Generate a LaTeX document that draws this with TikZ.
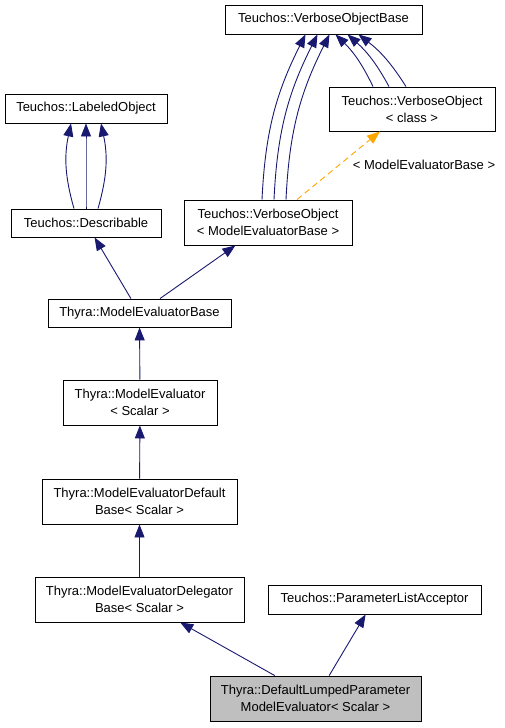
\documentclass[tikz,border=0pt]{standalone}
\usepackage{fontspec}
\setmainfont{Liberation Sans}
\usetikzlibrary{arrows.meta,positioning}
\definecolor{edgeblue}{RGB}{25,25,112}
\definecolor{tmplorange}{RGB}{255,165,0}
\definecolor{curfill}{RGB}{191,191,191}

\begin{document}
\begin{tikzpicture}[
x=1pt,y=-1pt,
>={Triangle[length=13pt,width=10pt]},
cls/.style={
	draw,
	rectangle,
	line width=0.9pt,
	inner sep=1pt,
	align=center,
	font=\fontsize{13}{17}\selectfont
},
inherit/.style={
	->,
	edgeblue,
	line width=0.9pt
},
tmpl/.style={
	->,
	tmplorange,
	line width=0.9pt,
	dash pattern=on 6pt off 4pt
}
]
\useasboundingbox (0,0) rectangle (504,728);

\node[cls,minimum width=197pt,minimum height=29pt] (vob) at (323.5,19.5) {Teuchos::VerboseObjectBase};
\node[cls,minimum width=166pt,minimum height=44pt] (voc) at (412,109) {Teuchos::VerboseObject\\< class >};
\node[cls,minimum width=168pt,minimum height=45pt] (vomeb) at (268,222.5) {Teuchos::VerboseObject\\< ModelEvaluatorBase >};
\node[cls,minimum width=162pt,minimum height=29pt] (lob) at (86,108.5) {Teuchos::LabeledObject};
\node[cls,minimum width=150pt,minimum height=28pt] (desc) at (86,223) {Teuchos::Describable};
\node[cls,minimum width=183pt,minimum height=28pt] (meb) at (139.5,313) {Thyra::ModelEvaluatorBase};
\node[cls,minimum width=154pt,minimum height=45pt] (me) at (140,402.5) {Thyra::ModelEvaluator\\< Scalar >};
\node[cls,minimum width=195pt,minimum height=45pt] (mdb) at (139.5,501.5) {Thyra::ModelEvaluatorDefault\\Base< Scalar >};
\node[cls,minimum width=209pt,minimum height=45pt] (mdel) at (139.5,599.5) {Thyra::ModelEvaluatorDelegator\\Base< Scalar >};
\node[cls,minimum width=213pt,minimum height=29pt] (pla) at (374.5,599.5) {Teuchos::ParameterListAcceptor};
\node[cls,fill=curfill,minimum width=211pt,minimum height=45pt] (dlpme) at (315.5,698.5) {Thyra::DefaultLumpedParameter\\ModelEvaluator< Scalar >};

% multiple paths to the same base
\foreach \s/\e in {-6/-18,6/-6,18/6}
\draw[inherit] ([xshift=\s pt]vomeb.north) to[bend left=12] ([xshift=\e pt]vob.south);
\foreach \s/\e in {-39/12,-23/24,-6/35}
\draw[inherit] ([xshift=\s pt]voc.north) to[bend right=10] ([xshift=\e pt]vob.south);
\foreach \s/\e/\b in {-12/-15/14,0/0/0,12/15/-14}
\draw[inherit] ([xshift=\s pt]desc.north) to[bend left=\b] ([xshift=\e pt]lob.south);

\draw[tmpl] ([xshift=29pt]vomeb.north) -- ([xshift=-32pt]voc.south);
\node[font=\fontsize{13}{17}\selectfont] (tlbl) at (424,165) {< ModelEvaluatorBase >};

\draw[inherit] (meb) -- (desc);
\draw[inherit] (meb) -- (vomeb);
\draw[inherit] (me) -- (meb);
\draw[inherit] (mdb) -- (me);
\draw[inherit] (mdel) -- (mdb);
\draw[inherit] (dlpme) -- (mdel);
\draw[inherit] (dlpme) -- (pla);
\end{tikzpicture}
\end{document}
